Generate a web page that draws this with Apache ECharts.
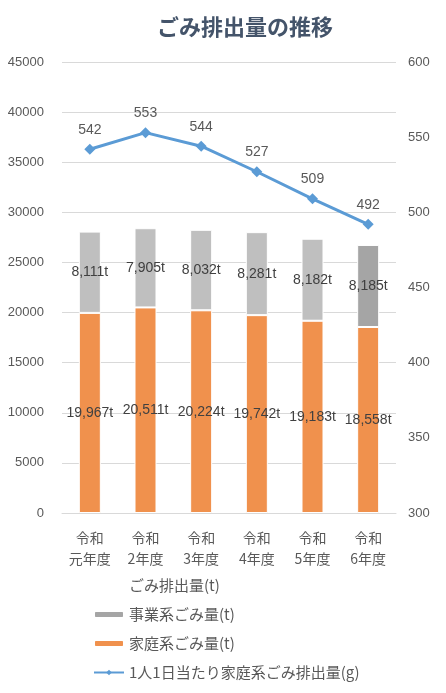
<!DOCTYPE html>
<html>
<head>
<meta charset="utf-8">
<script src="https://cdn.jsdelivr.net/npm/echarts@6/dist/echarts.min.js"></script>
<style>
  html, body { margin: 0; padding: 0; background: #fff; }
  #chart { width: 446px; height: 693px; }
</style>
</head>
<body>
<div id="chart"></div>
<script>
const years = ['令和\n元年度', '令和\n2年度', '令和\n3年度', '令和\n4年度', '令和\n5年度', '令和\n6年度']
const household = [19967, 20511, 20224, 19742, 19183, 18558]
const business = [8111, 7905, 8032, 8281, 8182, 8185]
const perPerson = [542, 553, 544, 527, 509, 492]

const font = "'Liberation Sans', 'Noto Sans CJK JP', sans-serif"
const jpFont = "'Noto Sans CJK JP', sans-serif"
const textColor = '#595959'

var myChart = echarts.init(document.getElementById('chart'))

// thousands separator + t
function tons(p) {
    return p.value.toLocaleString('en-US') + 't'
}

var option = {
    animation: false,
    textStyle: { fontFamily: font },
    title: {
        text: 'ごみ排出量の推移',
        left: 152,
        top: 11,
        textStyle: { fontSize: 22, fontWeight: 'bold', color: '#44546A', fontFamily: jpFont }
    },
    grid: { left: 62, right: 50, top: 62, bottom: 180 },
    legend: {
        orient: 'vertical',
        left: 88,
        top: 573,
        itemWidth: 30,
        itemHeight: 7,
        itemGap: 14,
        textStyle: { fontSize: 15, color: textColor, fontFamily: jpFont },
        data: [
            { name: 'ごみ排出量(t)', itemStyle: { opacity: 0 }, lineStyle: { opacity: 0 } },
            { name: '事業系ごみ量(t)', itemStyle: { color: '#A5A5A5' } },
            '家庭系ごみ量(t)',
            '1人1日当たり家庭系ごみ排出量(g)'
        ]
    },
    xAxis: {
        type: 'category',
        data: years,
        axisTick: { show: false },
        axisLine: { lineStyle: { color: '#D9D9D9' } },
        axisLabel: { color: textColor, fontSize: 14, lineHeight: 21, margin: 14, fontFamily: jpFont }
    },
    yAxis: [
        {
            type: 'value', min: 0, max: 45000, interval: 5000,
            axisLabel: { color: textColor, fontSize: 13, margin: 18, formatter: v => String(v) },
            splitLine: { lineStyle: { color: '#D9D9D9' } }
        },
        {
            type: 'value', min: 300, max: 600, interval: 50,
            axisLabel: { color: textColor, fontSize: 13, margin: 12, formatter: v => String(v) },
            splitLine: { show: false }
        }
    ],
    series: [
        {
            name: 'ごみ排出量(t)', type: 'line', data: [], symbol: 'none',
            itemStyle: { opacity: 0 }, lineStyle: { opacity: 0 }
        },
        {
            name: '家庭系ごみ量(t)',
            type: 'bar',
            stack: 'total',
            barWidth: 22,
            data: household,
            itemStyle: { color: '#F0914D', borderColor: '#fff', borderWidth: 1 },
            label: { show: true, position: 'inside', formatter: tons, color: '#404040', fontSize: 14 }
        },
        {
            name: '事業系ごみ量(t)',
            type: 'bar',
            stack: 'total',
            barWidth: 22,
            data: business.map((v, i) => ({
                value: v,
                itemStyle: { color: i === business.length - 1 ? '#A5A5A5' : '#BFBFBF' }
            })),
            itemStyle: { color: '#A5A5A5', borderColor: '#fff', borderWidth: 1 },
            label: { show: true, position: 'inside', formatter: tons, color: '#404040', fontSize: 14 }
        },
        {
            name: '1人1日当たり家庭系ごみ排出量(g)',
            type: 'line',
            yAxisIndex: 1,
            data: perPerson,
            symbol: 'diamond',
            symbolSize: 11,
            itemStyle: { color: '#5B9BD5' },
            lineStyle: { color: '#5B9BD5', width: 3 },
            label: { show: true, position: 'top', distance: 7, color: textColor, fontSize: 14 }
        }
    ]
}

myChart.setOption(option)
</script>
</body>
</html>
